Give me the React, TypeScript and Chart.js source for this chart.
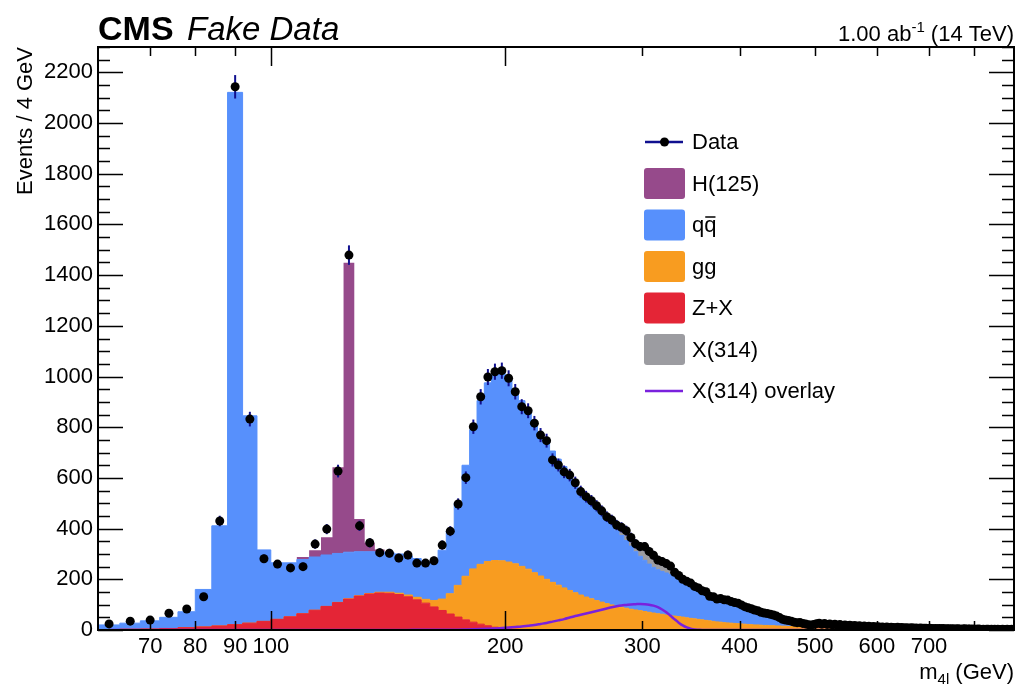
import React, { useEffect, useRef } from 'react';
import { Chart, registerables } from 'chart.js';

Chart.register(...registerables);

const FONT = '"Liberation Sans", Arial, Helvetica, sans-serif';

// Histogram binning: 4 GeV bins from 60 to 900 GeV (210 bins, centres 62 ... 898)
const binLow = 60;
const binWidth = 4;

// Z+X background (bottom of stack)
const zxValues = [
  2, 3, 4, 6, 9, 12, 16, 21, 27, 34,
  42, 52, 64, 78, 93, 108, 122, 134, 142, 146,
  145, 140, 131, 119, 106, 91, 77, 63, 51, 40,
  31, 23, 17, 11, 7, 4, 3, 2, 2, 1,
  1, 1, 1, 1, 1, 1, 1, 1, 1, 1,
  1, 1, 1, 1, 1, 1, 1, 1, 1, 1,
  1, 1, 1, 1, 1, 1, 1, 1, 1, 1,
  0, 0, 0, 0, 0, 0, 0, 0, 0, 0,
  0, 0, 0, 0, 0, 0, 0, 0, 0, 0,
  0, 0, 0, 0, 0, 0, 0, 0, 0, 0,
  0, 0, 0, 0, 0, 0, 0, 0, 0, 0,
  0, 0, 0, 0, 0, 0, 0, 0, 0, 0,
  0, 0, 0, 0, 0, 0, 0, 0, 0, 0,
  0, 0, 0, 0, 0, 0, 0, 0, 0, 0,
  0, 0, 0, 0, 0, 0, 0, 0, 0, 0,
  0, 0, 0, 0, 0, 0, 0, 0, 0, 0,
  0, 0, 0, 0, 0, 0, 0, 0, 0, 0,
  0, 0, 0, 0, 0, 0, 0, 0, 0, 0,
  0, 0, 0, 0, 0, 0, 0, 0, 0, 0,
  0, 0, 0, 0, 0, 0, 0, 0, 0, 0,
  0, 0, 0, 0, 0, 0, 0, 0, 0, 0,
];

// gg -> ZZ
const ggValues = [
  0, 0, 0, 0, 0, 0, 0, 0, 0, 0,
  0, 0, 0, 0, 0, 1, 1, 1, 2, 3,
  4, 5, 7, 10, 15, 25, 45, 80, 125, 172,
  210, 236, 253, 263, 266, 264, 258, 249, 238, 225,
  212, 199, 187, 176, 165, 155, 146, 137, 129, 122,
  115, 109, 103, 98, 93, 89, 85, 81, 78, 75,
  72, 69, 66, 63, 61, 58, 56, 54, 52, 50,
  48, 46, 44, 42, 40, 38, 36, 34, 32, 31,
  29, 28, 27, 26, 25, 24, 23, 22, 21, 20,
  20, 19, 18, 18, 17, 17, 16, 16, 15, 15,
  14, 14, 13, 13, 12, 12, 11, 11, 10, 10,
  10, 9, 9, 9, 9, 8, 8, 8, 8, 8,
  7, 7, 7, 7, 7, 6, 6, 6, 6, 6,
  6, 5, 5, 5, 5, 5, 5, 5, 5, 4,
  4, 4, 4, 4, 4, 4, 4, 4, 3, 3,
  3, 3, 3, 3, 3, 3, 3, 3, 3, 3,
  3, 3, 2, 2, 2, 2, 2, 2, 2, 2,
  2, 2, 2, 2, 2, 2, 2, 2, 2, 2,
  2, 2, 2, 2, 2, 1, 1, 1, 1, 1,
  1, 1, 1, 1, 1, 1, 1, 1, 1, 1,
  1, 1, 1, 1, 1, 1, 1, 1, 1, 1,
];

// q qbar -> ZZ
const qqValues = [
  18, 24, 32, 44, 63, 148, 395, 2100, 818, 282,
  223, 213, 214, 210, 203, 193, 184, 174, 165, 159,
  156, 155, 154, 153, 149, 152, 193, 247, 324, 438,
  549, 646, 705, 734, 739, 724, 689, 654, 622, 594,
  567, 542, 518, 497, 479, 463, 441, 419, 401, 384,
  368, 352, 333, 317, 300, 283, 267, 249, 230, 215,
  202, 190, 180, 174, 169, 166, 162, 157, 152, 146,
  141, 134, 128, 122, 116, 110, 104, 99, 95, 91,
  89, 86, 83, 80, 77, 74, 71, 68, 65, 62,
  58, 55, 52, 49, 47, 43, 40, 36, 34, 31,
  30, 28, 27, 25, 24, 22, 21, 20, 19, 18,
  17, 17, 16, 16, 15, 15, 14, 14, 13, 13,
  13, 12, 12, 12, 11, 11, 11, 10, 10, 10,
  10, 9, 9, 9, 9, 8, 8, 8, 8, 8,
  7, 7, 7, 7, 7, 6, 6, 6, 6, 6,
  6, 6, 5, 5, 5, 5, 5, 5, 5, 5,
  5, 4, 4, 4, 4, 4, 4, 4, 4, 4,
  4, 4, 3, 3, 3, 3, 3, 3, 3, 3,
  3, 3, 3, 3, 3, 3, 3, 3, 2, 2,
  2, 2, 2, 2, 2, 2, 2, 2, 2, 2,
  2, 2, 2, 2, 2, 2, 2, 2, 2, 2,
];

// H(125)
const h125Values = [
  0, 0, 0, 0, 0, 0, 0, 0, 0, 0,
  0, 0, 10, 27, 70, 340, 1142, 129, 35, 10,
  3, 0, 0, 0, 0, 0, 0, 0, 0, 0,
  0, 0, 0, 0, 0, 0, 0, 0, 0, 0,
  0, 0, 0, 0, 0, 0, 0, 0, 0, 0,
  0, 0, 0, 0, 0, 0, 0, 0, 0, 0,
  0, 0, 0, 0, 0, 0, 0, 0, 0, 0,
  0, 0, 0, 0, 0, 0, 0, 0, 0, 0,
  0, 0, 0, 0, 0, 0, 0, 0, 0, 0,
  0, 0, 0, 0, 0, 0, 0, 0, 0, 0,
  0, 0, 0, 0, 0, 0, 0, 0, 0, 0,
  0, 0, 0, 0, 0, 0, 0, 0, 0, 0,
  0, 0, 0, 0, 0, 0, 0, 0, 0, 0,
  0, 0, 0, 0, 0, 0, 0, 0, 0, 0,
  0, 0, 0, 0, 0, 0, 0, 0, 0, 0,
  0, 0, 0, 0, 0, 0, 0, 0, 0, 0,
  0, 0, 0, 0, 0, 0, 0, 0, 0, 0,
  0, 0, 0, 0, 0, 0, 0, 0, 0, 0,
  0, 0, 0, 0, 0, 0, 0, 0, 0, 0,
  0, 0, 0, 0, 0, 0, 0, 0, 0, 0,
  0, 0, 0, 0, 0, 0, 0, 0, 0, 0,
];

// X(314) signal, stacked on top
const x314Values = [
  0, 0, 0, 0, 0, 0, 0, 0, 0, 0,
  0, 0, 0, 0, 0, 0, 0, 0, 0, 0,
  0, 0, 0, 0, 0, 0, 0, 0, 0, 0,
  0, 0, 0, 0, 0, 0, 0, 0, 0, 0,
  0, 0, 0, 0, 0, 1, 2, 3, 4, 5,
  7, 9, 14, 17, 22, 28, 33, 38, 42, 45,
  46, 46, 44, 40, 35, 29, 22, 16, 10, 6,
  2, 1, 0, 0, 0, 0, 0, 0, 0, 0,
  0, 0, 0, 0, 0, 0, 0, 0, 0, 0,
  0, 0, 0, 0, 0, 0, 0, 0, 0, 0,
  0, 0, 0, 0, 0, 0, 0, 0, 0, 0,
  0, 0, 0, 0, 0, 0, 0, 0, 0, 0,
  0, 0, 0, 0, 0, 0, 0, 0, 0, 0,
  0, 0, 0, 0, 0, 0, 0, 0, 0, 0,
  0, 0, 0, 0, 0, 0, 0, 0, 0, 0,
  0, 0, 0, 0, 0, 0, 0, 0, 0, 0,
  0, 0, 0, 0, 0, 0, 0, 0, 0, 0,
  0, 0, 0, 0, 0, 0, 0, 0, 0, 0,
  0, 0, 0, 0, 0, 0, 0, 0, 0, 0,
  0, 0, 0, 0, 0, 0, 0, 0, 0, 0,
  0, 0, 0, 0, 0, 0, 0, 0, 0, 0,
];

// X(314) overlay (unstacked line)
const overlayValues = [
  0, 0, 0, 0, 0, 0, 0, 0, 0, 0,
  0, 0, 0, 0, 0, 0, 0, 0, 0, 0,
  0, 0, 0, 1, 1, 1, 1, 1, 1, 2,
  3, 4, 5, 6, 8, 10, 12, 14, 17, 20,
  24, 28, 33, 38, 43, 49, 55, 60, 65, 70,
  75, 80, 85, 90, 94, 97, 99, 101, 102, 103,
  102, 100, 96, 90, 81, 70, 56, 42, 29, 18,
  10, 5, 2, 1, 0, 0, 0, 0, 0, 0,
  0, 0, 0, 0, 0, 0, 0, 0, 0, 0,
  0, 0, 0, 0, 0, 0, 0, 0, 0, 0,
  0, 0, 0, 0, 0, 0, 0, 0, 0, 0,
  0, 0, 0, 0, 0, 0, 0, 0, 0, 0,
  0, 0, 0, 0, 0, 0, 0, 0, 0, 0,
  0, 0, 0, 0, 0, 0, 0, 0, 0, 0,
  0, 0, 0, 0, 0, 0, 0, 0, 0, 0,
  0, 0, 0, 0, 0, 0, 0, 0, 0, 0,
  0, 0, 0, 0, 0, 0, 0, 0, 0, 0,
  0, 0, 0, 0, 0, 0, 0, 0, 0, 0,
  0, 0, 0, 0, 0, 0, 0, 0, 0, 0,
  0, 0, 0, 0, 0, 0, 0, 0, 0, 0,
  0, 0, 0, 0, 0, 0, 0, 0, 0, 0,
];

// Fake data
const dataValues = [
  24, 35, 39, 66, 83, 131, 430, 2143, 832, 281,
  260, 245, 250, 339, 398, 627, 1479, 411, 344, 305,
  303, 284, 296, 264, 264, 273, 335, 390, 497, 601,
  802, 920, 998, 1019, 1023, 993, 940, 881, 865, 816,
  769, 747, 671, 651, 624, 611, 581, 546, 526, 510,
  490, 470, 447, 434, 414, 405, 392, 365, 340, 329,
  329, 310, 295, 276, 270, 262, 252, 228, 215, 200,
  192, 185, 172, 166, 155, 151, 133, 131, 122, 124,
  119, 118, 112, 108, 106, 99, 92, 88, 84, 79,
  76, 70, 67, 65, 62, 59, 55, 49, 42, 39,
  37, 35, 31, 29, 30, 26, 24, 21, 20, 22,
  25, 27, 23, 26, 22, 24, 20, 23, 19, 22,
  18, 20, 17, 19, 16, 18, 15, 17, 14, 16,
  13, 15, 12, 14, 12, 13, 11, 12, 10, 12,
  10, 11, 10, 9, 11, 9, 10, 8, 9, 8,
  8, 9, 7, 8, 6, 8, 7, 7, 7, 6,
  7, 6, 5, 6, 5, 6, 5, 6, 4, 5,
  5, 4, 5, 4, 4, 5, 4, 3, 4, 5,
  3, 4, 4, 3, 4, 3, 3, 4, 3, 2,
  3, 2, 3, 3, 2, 3, 2, 3, 2, 3,
  2, 2, 3, 2, 2, 3, 2, 2, 3, 2,
];

const xMin = 60;
const xMax = 900;
const yMax = 2300;
const xTickValues = [70, 80, 90, 100, 200, 300, 400, 500, 600, 700];
const xMajorTicks = [100, 200];
const xMinorTicks = [70, 80, 90, 300, 400, 500, 600, 700, 800];
const yTickValues = [0, 200, 400, 600, 800, 1000, 1200, 1400, 1600, 1800, 2000, 2200];
const yMinorStep = 50;

const legendLabels = ['Data', 'H(125)', 'qq̄', 'gg', 'Z+X', 'X(314)', 'X(314) overlay'];

const COLORS = {
  zx: '#e42536',
  gg: '#f89c20',
  qq: '#5790fc',
  h125: '#964a8b',
  x314: '#9c9ca1',
  overlay: '#7a21dd',
  data: '#000000',
  err: '#10108f',
};

const DATA_INDEX = 6;

const decorPlugin = {
  id: 'decor',
  beforeDatasetDraw(chart: any, args: any) {
    if (args.index !== DATA_INDEX) return;
    const ctx = chart.ctx;
    const ys = chart.scales.y;
    const area = chart.chartArea;
    const meta = chart.getDatasetMeta(DATA_INDEX);
    ctx.save();
    ctx.beginPath();
    ctx.rect(area.left, area.top, area.right - area.left, area.bottom - area.top);
    ctx.clip();
    ctx.strokeStyle = COLORS.err;
    ctx.lineWidth = 2;
    meta.data.forEach((pt: any, i: number) => {
      const v = dataValues[i];
      if (!v) return;
      const e = Math.sqrt(v);
      ctx.beginPath();
      ctx.moveTo(pt.x, ys.getPixelForValue(v + e));
      ctx.lineTo(pt.x, ys.getPixelForValue(Math.max(0, v - e)));
      ctx.stroke();
    });
    ctx.restore();
  },
  afterDraw(chart: any) {
    const ctx = chart.ctx;
    const { left, right, top, bottom } = chart.chartArea;
    const xs = chart.scales.x;
    const ys = chart.scales.y;
    ctx.save();
    ctx.strokeStyle = '#000';
    ctx.fillStyle = '#000';

    // ticks (inside the frame, ROOT style)
    ctx.lineWidth = 1.5;
    for (let v = 0; v <= yMax; v += yMinorStep) {
      const y = Math.round(ys.getPixelForValue(v)) + 0.5;
      const len = v % 200 === 0 ? 25 : 12;
      ctx.beginPath();
      ctx.moveTo(left, y);
      ctx.lineTo(left + len, y);
      ctx.moveTo(right, y);
      ctx.lineTo(right - len, y);
      ctx.stroke();
    }
    const drawXTick = (v: number, len: number) => {
      const x = Math.round(xs.getPixelForValue(v)) + 0.5;
      ctx.beginPath();
      ctx.moveTo(x, top);
      ctx.lineTo(x, top + len);
      ctx.moveTo(x, bottom);
      ctx.lineTo(x, bottom - len);
      ctx.stroke();
    };
    xMajorTicks.forEach((v) => drawXTick(v, 19));
    xMinorTicks.forEach((v) => drawXTick(v, 9));

    // frame
    ctx.lineWidth = 2;
    ctx.strokeRect(left, top, right - left, bottom - top);

    // header
    ctx.textBaseline = 'alphabetic';
    ctx.textAlign = 'left';
    ctx.font = `bold 34px ${FONT}`;
    ctx.fillText('CMS', left, 40);
    ctx.font = `italic 33px ${FONT}`;
    ctx.fillText('Fake Data', 187, 40);

    // luminosity label
    const lumiA = '1.00 ab';
    const lumiSup = '-1';
    const lumiB = ' (14 TeV)';
    ctx.font = `22px ${FONT}`;
    const wA = ctx.measureText(lumiA).width;
    const wB = ctx.measureText(lumiB).width;
    ctx.font = `15px ${FONT}`;
    const wS = ctx.measureText(lumiSup).width;
    let lx = right - (wA + wS + wB);
    ctx.font = `22px ${FONT}`;
    ctx.fillText(lumiA, lx, 41);
    lx += wA;
    ctx.font = `15px ${FONT}`;
    ctx.fillText(lumiSup, lx, 32);
    lx += wS;
    ctx.font = `22px ${FONT}`;
    ctx.fillText(lumiB, lx, 41);

    // y title
    ctx.save();
    ctx.translate(32, top);
    ctx.rotate(-Math.PI / 2);
    ctx.textAlign = 'right';
    ctx.font = `22px ${FONT}`;
    ctx.fillText('Events / 4 GeV', 0, 0);
    ctx.restore();

    // x title: m_{4l} (GeV)
    const base = 679;
    ctx.font = `22px ${FONT}`;
    const tGeV = ' (GeV)';
    const wGeV = ctx.measureText(tGeV).width;
    const wM = ctx.measureText('m').width;
    ctx.font = `15px ${FONT}`;
    const wSub = ctx.measureText('4l').width;
    let tx = right - (wM + wSub + wGeV);
    ctx.font = `22px ${FONT}`;
    ctx.fillText('m', tx, base);
    tx += wM;
    ctx.font = `15px ${FONT}`;
    ctx.fillText('4l', tx, base + 5);
    tx += wSub;
    ctx.font = `22px ${FONT}`;
    ctx.fillText(tGeV, tx, base);

    // legend
    const lgX = 644;
    const lgW = 41;
    const lgH = 31;
    const textX = 692;
    const rowY0 = 142;
    const rowStep = 41.5;
    const boxColors = [null, COLORS.h125, COLORS.qq, COLORS.gg, COLORS.zx, COLORS.x314, null];
    ctx.font = `22px ${FONT}`;
    ctx.textBaseline = 'middle';
    legendLabels.forEach((label, k) => {
      const cy = rowY0 + rowStep * k;
      if (k === 0) {
        ctx.strokeStyle = COLORS.err;
        ctx.lineWidth = 2.5;
        ctx.beginPath();
        ctx.moveTo(lgX + 1, cy);
        ctx.lineTo(lgX + lgW - 2, cy);
        ctx.stroke();
        ctx.fillStyle = '#000';
        ctx.beginPath();
        ctx.arc(lgX + lgW / 2, cy, 4.5, 0, Math.PI * 2);
        ctx.fill();
      } else if (k === legendLabels.length - 1) {
        ctx.strokeStyle = COLORS.overlay;
        ctx.lineWidth = 2.5;
        ctx.beginPath();
        ctx.moveTo(lgX + 1, cy);
        ctx.lineTo(lgX + lgW - 2, cy);
        ctx.stroke();
      } else {
        ctx.fillStyle = boxColors[k] as string;
        ctx.beginPath();
        (ctx as any).roundRect
          ? (ctx as any).roundRect(lgX, cy - lgH / 2, lgW, lgH, 3)
          : ctx.rect(lgX, cy - lgH / 2, lgW, lgH);
        ctx.fill();
      }
      ctx.fillStyle = '#000';
      if (label === 'qq̄') {
        const wq = ctx.measureText('q').width;
        ctx.fillText('q', textX, cy + 1);
        ctx.fillText('q', textX + wq, cy + 1);
        ctx.strokeStyle = '#000';
        ctx.lineWidth = 1.5;
        ctx.beginPath();
        ctx.moveTo(textX + wq + 1, cy - 8);
        ctx.lineTo(textX + 2 * wq - 1, cy - 8);
        ctx.stroke();
      } else {
        ctx.fillText(label, textX, cy + 1);
      }
    });

    ctx.restore();
  },
};

export default function App() {
  const canvasRef = useRef<HTMLCanvasElement | null>(null);

  useEffect(() => {
    const canvas = canvasRef.current;
    if (!canvas) return;
    const nBins = dataValues.length;
    const edges = Array.from({ length: nBins + 1 }, (_, i) => binLow + binWidth * i);
    const centers = edges.slice(0, nBins).map((e) => e + binWidth / 2);
    const stepPoints = (vals: number[]) => {
      const pts = vals.map((v, i) => ({ x: edges[i], y: v }));
      pts.push({ x: edges[vals.length], y: vals[vals.length - 1] });
      return pts;
    };
    const stackDs = (label: string, vals: number[], color: string, idx: number, showBorder: boolean) => ({
      type: 'line' as const,
      label,
      data: stepPoints(vals),
      stepped: true,
      fill: idx === 0 ? 'origin' : '-1',
      backgroundColor: color,
      borderColor: showBorder ? color : 'rgba(0,0,0,0)',
      borderWidth: 1,
      pointRadius: 0,
      stack: 'mc',
      order: 2,
    });

    const chart = new Chart(canvas, {
      type: 'line',
      data: {
        datasets: [
          stackDs('Z+X', zxValues, COLORS.zx, 0, true),
          stackDs('gg', ggValues, COLORS.gg, 1, true),
          stackDs('qq̄', qqValues, COLORS.qq, 2, true),
          stackDs('H(125)', h125Values, COLORS.h125, 3, false),
          stackDs('X(314)', x314Values, COLORS.x314, 4, false),
          {
            type: 'line',
            label: 'X(314) overlay',
            data: overlayValues.map((v, i) => ({ x: centers[i], y: v })),
            borderColor: COLORS.overlay,
            borderWidth: 2.5,
            pointRadius: 0,
            fill: false,
            cubicInterpolationMode: 'monotone',
            stack: 'overlay',
            order: 1,
          },
          {
            type: 'line',
            label: 'Data',
            data: dataValues.map((v, i) => ({ x: centers[i], y: v })),
            showLine: false,
            pointRadius: 4.5,
            pointBackgroundColor: COLORS.data,
            pointBorderColor: COLORS.data,
            pointBorderWidth: 0,
            fill: false,
            stack: 'data',
            order: 0,
          },
        ] as any,
      },
      options: {
        animation: false,
        responsive: false,
        devicePixelRatio: 1,
        layout: { padding: { left: 0, top: 47, right: 5, bottom: 0 } },
        plugins: {
          legend: { display: false },
          tooltip: { enabled: false },
          title: { display: false },
        },
        scales: {
          x: {
            type: 'logarithmic',
            min: xMin,
            max: xMax,
            grid: { display: false, drawTicks: false },
            border: { display: false },
            afterBuildTicks: (scale: any) => {
              scale.ticks = xTickValues.map((v) => ({ value: v }));
            },
            afterFit: (scale: any) => {
              scale.height = 56;
            },
            ticks: {
              autoSkip: false,
              maxRotation: 0,
              minRotation: 0,
              padding: 4,
              color: '#000',
              font: { family: FONT, size: 22 },
              callback: (v: any) => String(v),
            },
          },
          y: {
            type: 'linear',
            stacked: true,
            min: 0,
            max: yMax,
            grid: { display: false, drawTicks: false },
            border: { display: false },
            afterBuildTicks: (scale: any) => {
              scale.ticks = yTickValues.map((v) => ({ value: v }));
            },
            afterFit: (scale: any) => {
              scale.width = 98;
            },
            ticks: {
              padding: 5,
              color: '#000',
              font: { family: FONT, size: 22 },
              callback: (v: any) => String(v),
            },
          },
        },
      } as any,
      plugins: [decorPlugin],
    });

    return () => chart.destroy();
  }, []);

  return (
    <div style={{ position: 'fixed', left: 0, top: 0, width: 1019, height: 686, background: '#fff', overflow: 'hidden' }}>
      <canvas ref={canvasRef} width={1019} height={686} style={{ display: 'block', width: 1019, height: 686 }} />
    </div>
  );
}
